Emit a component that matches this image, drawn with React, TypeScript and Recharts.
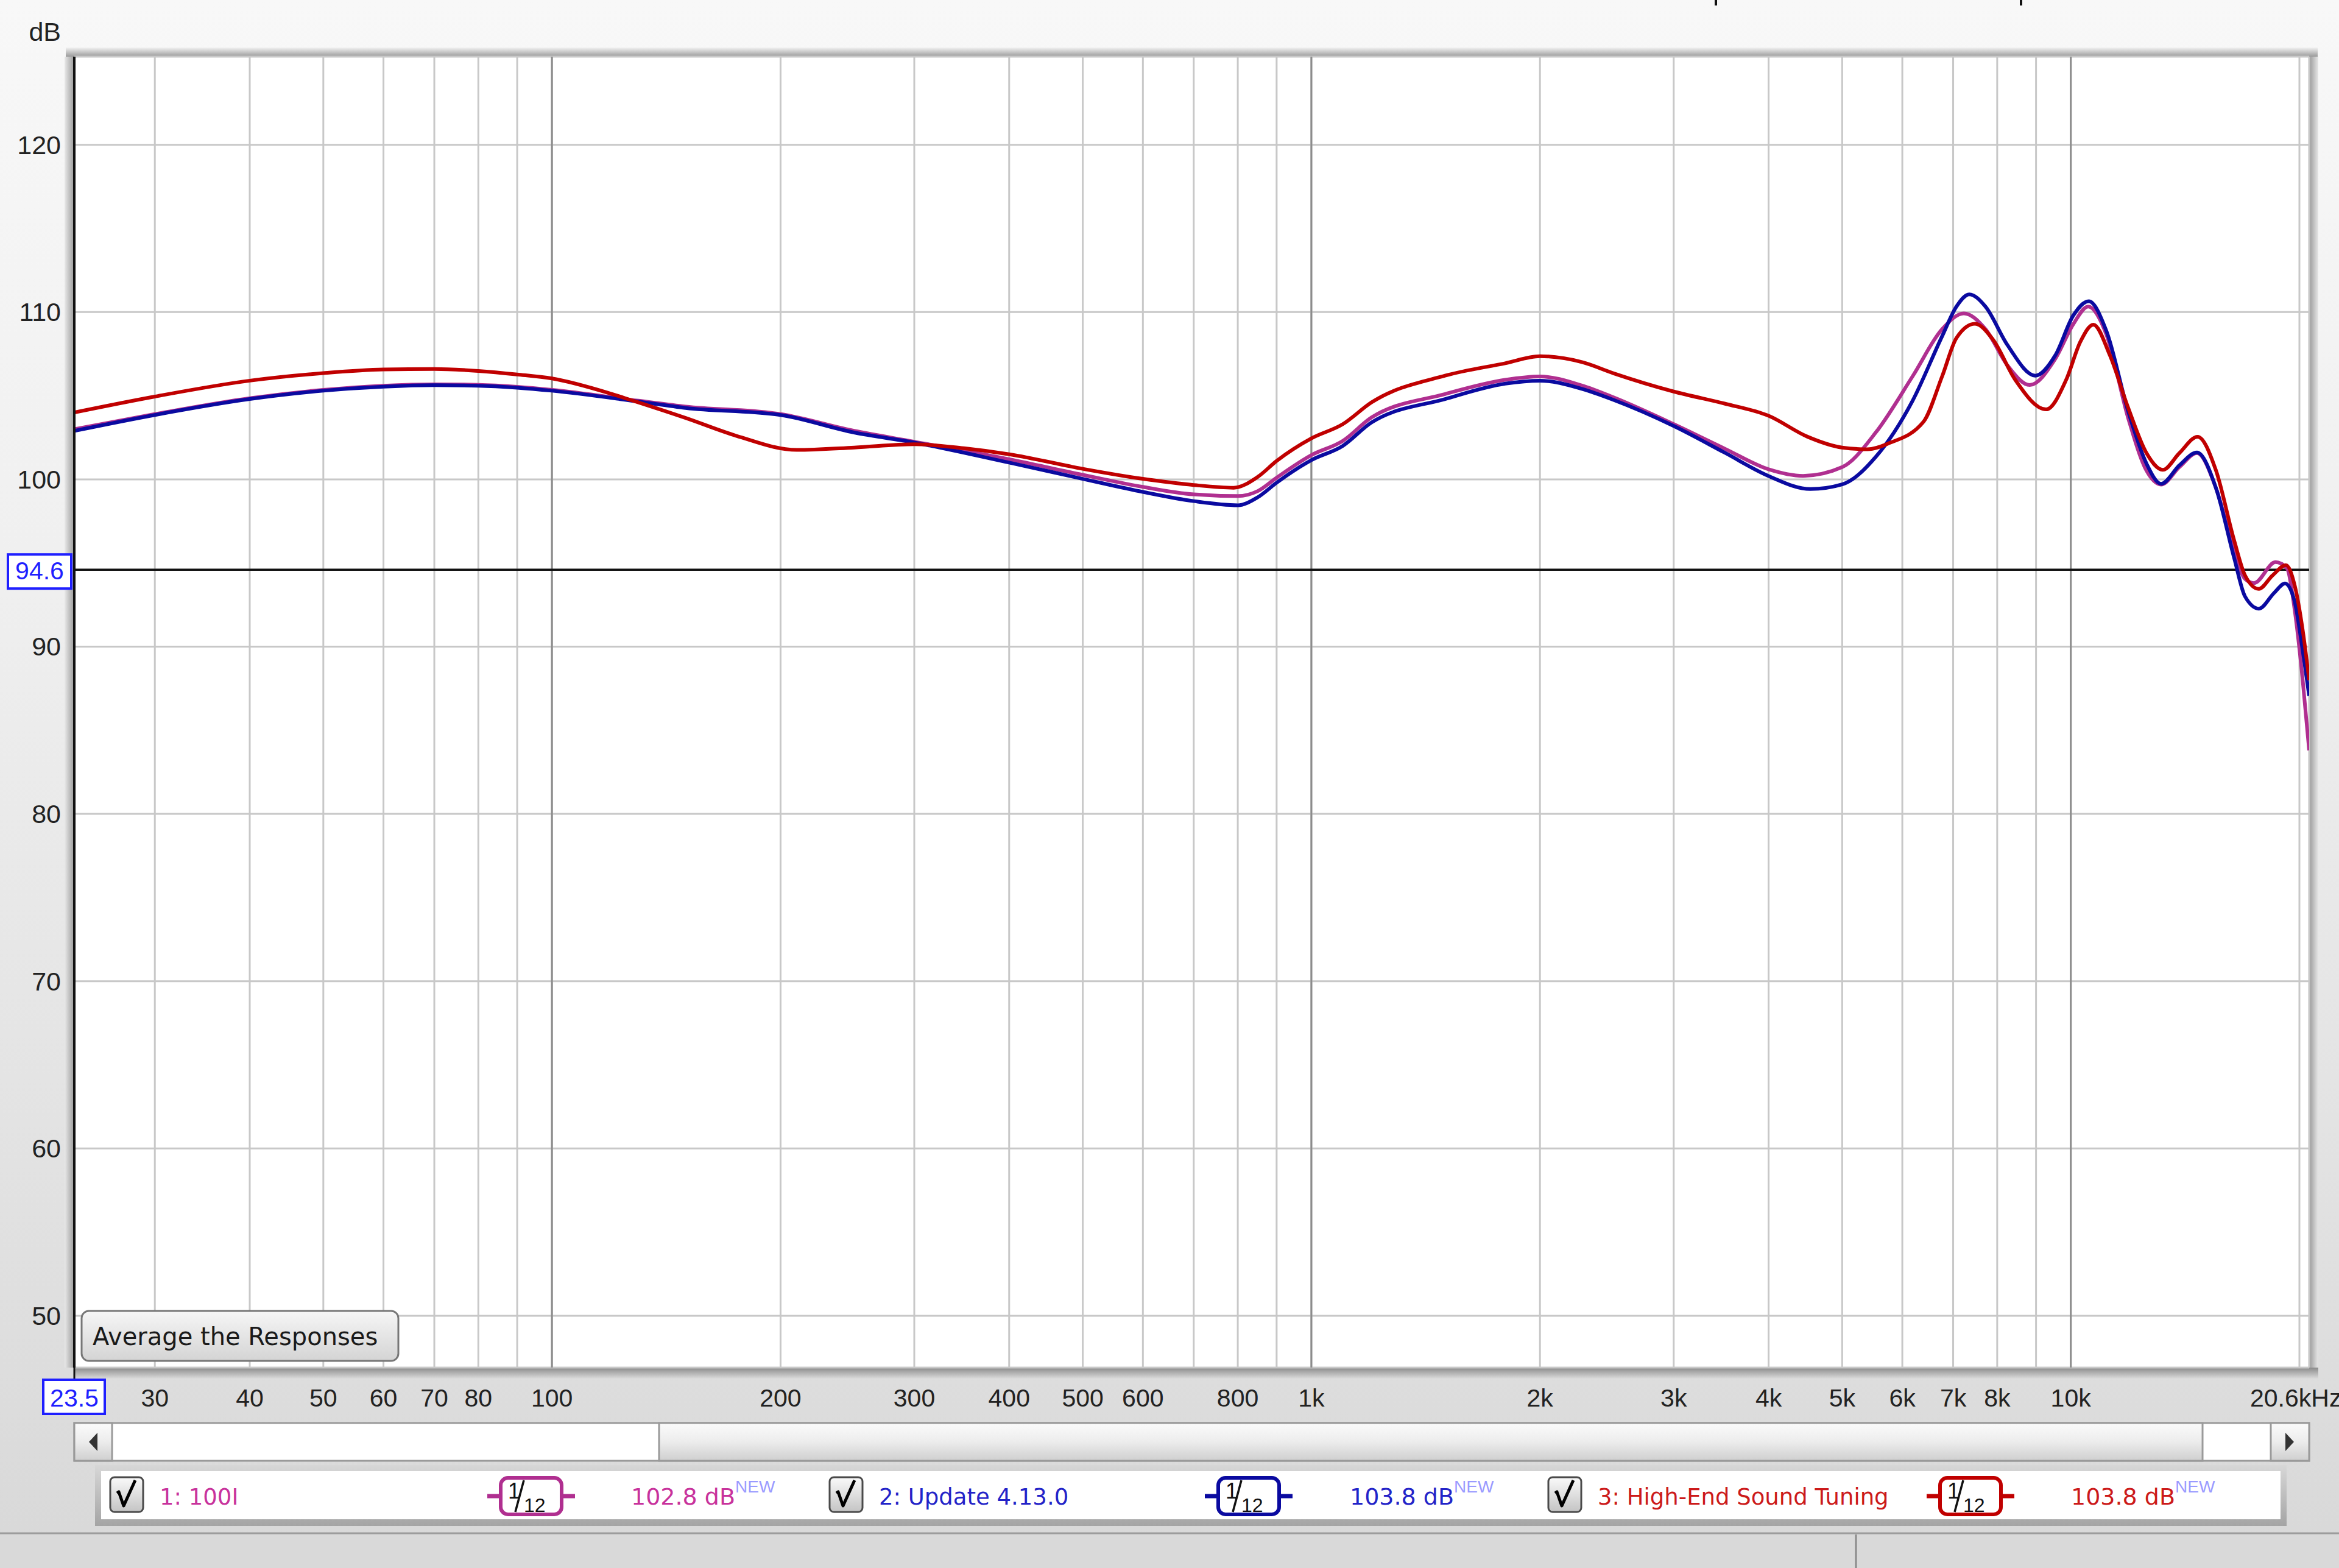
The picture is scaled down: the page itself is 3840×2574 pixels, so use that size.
import React from 'react';
import { LineChart, Line, XAxis, YAxis, CartesianGrid, ReferenceLine } from 'recharts';

// ---- data ----
const magFreq = [23.5, 30, 40, 50, 60, 70, 80, 90, 100, 130, 150, 200, 250, 300, 400, 500, 600, 700, 800, 850, 900, 1000, 1100, 1200, 1500, 1800, 2000, 2275, 2500, 3000, 3500, 4000, 4440, 5000, 5540, 6190, 6770, 7230, 7720, 8260, 8830, 9540, 10080, 10540, 11140, 11900, 12580, 13150, 13900, 14660, 15530, 16410, 16960, 17430, 18600, 19260, 19700, 20200, 20600];
const magDb = [103.0, 103.9, 104.85, 105.35, 105.6, 105.68, 105.65, 105.53, 105.35, 104.7, 104.35, 103.9, 102.9, 102.25, 101.2, 100.27, 99.55, 99.1, 99.0, 99.3, 100.1, 101.45, 102.3, 103.7, 105.1, 105.95, 106.15, 105.6, 104.9, 103.3, 101.84, 100.6, 100.21, 100.73, 102.82, 106.16, 108.98, 109.92, 108.98, 106.79, 105.64, 107.2, 109.29, 110.33, 108.66, 103.66, 100.52, 99.69, 100.73, 101.57, 99.48, 95.72, 94.05, 93.8, 95.05, 94.68, 92.3, 88.0, 83.8];

const blueFreq = [23.5, 30, 40, 50, 60, 70, 80, 90, 100, 130, 150, 200, 250, 300, 400, 500, 600, 700, 800, 850, 900, 1000, 1100, 1200, 1500, 1800, 2000, 2275, 2500, 3000, 3500, 4000, 4540, 5000, 5540, 6190, 6770, 7070, 7350, 7720, 8250, 8980, 9540, 10080, 10560, 11140, 11900, 12580, 13150, 13900, 14660, 15530, 16410, 16960, 17690, 18530, 19150, 19700, 20190, 20600];
const blueDb = [102.9, 103.85, 104.8, 105.3, 105.54, 105.63, 105.6, 105.48, 105.3, 104.65, 104.27, 103.85, 102.8, 102.2, 101.0, 100.03, 99.25, 98.7, 98.45, 98.93, 99.8, 101.15, 102.0, 103.4, 104.8, 105.72, 105.9, 105.4, 104.75, 103.19, 101.6, 100.2, 99.42, 99.7, 101.36, 104.7, 108.56, 110.33, 111.06, 110.33, 108.04, 106.2, 107.41, 109.81, 110.65, 108.87, 104.07, 100.94, 99.73, 100.84, 101.61, 99.48, 95.3, 93.0, 92.27, 93.22, 93.78, 92.75, 89.84, 87.06];

const redFreq = [23.5, 30, 40, 50, 60, 70, 80, 90, 100, 120, 130, 150, 175, 210, 250, 300, 350, 400, 500, 600, 700, 790, 850, 900, 1000, 1100, 1200, 1500, 1800, 2000, 2275, 2500, 3000, 3500, 4000, 4500, 5000, 5400, 5760, 6400, 6770, 7070, 7480, 7900, 8450, 9280, 9860, 10300, 10710, 11260, 11900, 12580, 13220, 13900, 14690, 15530, 16410, 16960, 17680, 18440, 19200, 19700, 20190, 20600];
const redDb = [104.0, 104.95, 105.9, 106.35, 106.57, 106.6, 106.48, 106.27, 106.03, 105.1, 104.6, 103.67, 102.6, 101.76, 101.9, 102.1, 101.85, 101.5, 100.63, 100.03, 99.66, 99.5, 100.15, 101.1, 102.45, 103.3, 104.6, 106.2, 106.94, 107.36, 107.0, 106.34, 105.25, 104.53, 103.8, 102.55, 101.9, 101.8, 102.16, 103.45, 106.16, 108.45, 109.3, 108.35, 105.95, 104.18, 105.95, 108.25, 109.25, 107.41, 104.28, 101.57, 100.57, 101.57, 102.55, 100.53, 96.35, 94.26, 93.45, 94.26, 94.87, 93.72, 91.06, 88.0];

const xTicks = [23.5, 30, 40, 50, 60, 70, 80, 90, 100, 200, 300, 400, 500, 600, 700, 800, 900, 1000, 2000, 3000, 4000, 5000, 6000, 7000, 8000, 9000, 10000, 20000, 20600];
const xLabeled = [30, 40, 50, 60, 70, 80, 100, 200, 300, 400, 500, 600, 800, 1000, 2000, 3000, 4000, 5000, 6000, 7000, 8000, 10000];
const yTicks = [50, 60, 70, 80, 90, 94.6, 100, 110, 120];
const decadeLines = [100, 1000, 10000];
const refLevel = 94.6;
const xMin = 23.5;
const xMax = 20600;

const seriesNames = ['1: 100I', '2: Update 4.13.0', '3: High-End Sound Tuning'];
const seriesLevels = ['102.8 dB', '103.8 dB', '103.8 dB'];
const lineColors = ['#b02f90', '#0a0aa0', '#c00000'];
const textColors = ['#c8329c', '#2323c8', '#cc1a1a'];

const toData = (f: number[], d: number[]) => f.map((v, i) => ({ f: v, db: d[i] }));
const magData = toData(magFreq, magDb);
const blueData = toData(blueFreq, blueDb);
const redData = toData(redFreq, redDb);

const FONT = '"Liberation Sans", Arial, sans-serif';
const UIFONT = '"DejaVu Sans", Verdana, sans-serif';
const W = 3840;
const H = 2574;
const PL = 122, PR = 3791, PT = 93, PB = 2245;

const fmtX = (v: number) => (v >= 1000 ? `${v / 1000}k` : `${v}`);

const XTick = (props: any) => {
  const { x, y, payload } = props;
  const v = payload.value;
  if (v === xMin) {
    return (
      <g>
        <line x1={x} y1={y} x2={x} y2={y + 20} stroke="#111" strokeWidth={3} />
        <rect x={x - 51} y={y + 20} width={101} height={56} fill="#fff" stroke="#1f1fff" strokeWidth={4} />
        <text x={x} y={y + 64} textAnchor="middle" fontFamily={FONT} fontSize={41} fill="#1f1fff">23.5</text>
      </g>
    );
  }
  if (v === xMax) {
    return (
      <text x={x - 97} y={y + 64} textAnchor="start" fontFamily={FONT} fontSize={41} fill="#222">20.6kHz</text>
    );
  }
  if (!xLabeled.includes(v)) return null;
  return (
    <text x={x} y={y + 64} textAnchor="middle" fontFamily={FONT} fontSize={41} fill="#222">{fmtX(v)}</text>
  );
};

const YTick = (props: any) => {
  const { x, y, payload } = props;
  const v = payload.value;
  if (v === refLevel) {
    return (
      <g>
        <rect x={x - 87} y={y - 25} width={104} height={56} fill="#fff" stroke="#1f1fff" strokeWidth={4} />
        <text x={x - 35} y={y + 16} textAnchor="middle" fontFamily={FONT} fontSize={41} fill="#1f1fff">94.6</text>
      </g>
    );
  }
  return (
    <text x={x} y={y + 15} textAnchor="end" fontFamily={FONT} fontSize={43} fill="#222">{v}</text>
  );
};

const Checkbox = ({ x }: { x: number }) => (
  <g>
    <rect x={x} y={2425} width={54} height={57} rx={7} fill="url(#cbGrad)" stroke="#4a4a4a" strokeWidth={3} />
    <path d={`M ${x + 11} ${2451} L ${x + 14} ${2449} L ${x + 22} ${2472} L ${x + 41} ${2430}`} fill="none" stroke="#000" strokeWidth={5} strokeLinejoin="round" />
  </g>
);

const FilterIcon = ({ x, color }: { x: number; color: string }) => (
  <g>
    <line x1={x} y1={2456} x2={x + 22} y2={2456} stroke={color} strokeWidth={7} />
    <line x1={x + 122} y1={2456} x2={x + 144} y2={2456} stroke={color} strokeWidth={7} />
    <rect x={x + 22} y={2426} width={100} height={60} rx={12} fill="#fff" stroke={color} strokeWidth={6} />
    <text x={x + 34} y={2460} fontFamily={FONT} fontSize={36} fill="#111">1</text>
    <line x1={x + 46} y1={2482} x2={x + 60} y2={2430} stroke="#111" strokeWidth={3.5} />
    <text x={x + 60} y={2482} fontFamily={FONT} fontSize={32} fill="#111">12</text>
  </g>
);

const legendX = [181, 1362, 2542];
const iconX = [800, 1978, 3163];
const levelX = [1036, 2216, 3400];

export default function App() {
  return (
    <div style={{ position: 'fixed', left: 0, top: 0, width: W, height: H, overflow: 'hidden' }}>
      {/* underlay */}
      <svg width={W} height={H} style={{ position: 'absolute', left: 0, top: 0 }}>
        <defs>
          <linearGradient id="bgGrad" x1="0" y1="0" x2="0" y2="1">
            <stop offset="0" stopColor="#f8f8f8" />
            <stop offset="0.35" stopColor="#f0f0f0" />
            <stop offset="0.8" stopColor="#e0e0e0" />
            <stop offset="1" stopColor="#d8d8d8" />
          </linearGradient>
          <linearGradient id="topSh" x1="0" y1="0" x2="0" y2="1">
            <stop offset="0" stopColor="#f2f2f2" />
            <stop offset="1" stopColor="#9a9a9a" />
          </linearGradient>
          <linearGradient id="leftSh" x1="0" y1="0" x2="1" y2="0">
            <stop offset="0" stopColor="#e8e8e8" />
            <stop offset="1" stopColor="#9a9a9a" />
          </linearGradient>
          <linearGradient id="rightSh" x1="0" y1="0" x2="1" y2="0">
            <stop offset="0" stopColor="#999" />
            <stop offset="1" stopColor="#e6e6e6" />
          </linearGradient>
          <linearGradient id="botSh" x1="0" y1="0" x2="0" y2="1">
            <stop offset="0" stopColor="#8a8a8a" />
            <stop offset="1" stopColor="#dadada" />
          </linearGradient>
        </defs>
        <rect x={0} y={0} width={W} height={H} fill="url(#bgGrad)" />
        <rect x={PL - 14} y={PT - 15} width={PR - PL + 28} height={15} fill="url(#topSh)" />
        <rect x={PL - 16} y={PT} width={16} height={PB - PT} fill="url(#leftSh)" />
        <rect x={PR} y={PT} width={15} height={PB - PT} fill="url(#rightSh)" />
        <rect x={PL} y={PB} width={PR - PL + 15} height={18} fill="url(#botSh)" />
        <rect x={PL} y={PT} width={PR - PL} height={PB - PT} fill="#fff" />
      </svg>

      {/* chart */}
      <div style={{ position: 'absolute', left: 0, top: 0 }}>
        <LineChart width={W} height={H} margin={{ top: PT, right: W - PR, bottom: H - PB - 80, left: PL - 100 }}>
          <CartesianGrid stroke="#c8c8c8" strokeWidth={3} />
          <XAxis
            dataKey="f"
            type="number"
            scale="log"
            domain={[xMin, xMax]}
            allowDataOverflow
            ticks={xTicks}
            interval={0}
            height={80}
            axisLine={false}
            tickLine={false}
            tickSize={0}
            tickMargin={0}
            tick={<XTick />}
          />
          <YAxis
            type="number"
            domain={[46.9, 125.27]}
            allowDataOverflow
            ticks={yTicks}
            interval={0}
            width={100}
            axisLine={{ stroke: '#111', strokeWidth: 4 }}
            tickLine={false}
            tickSize={0}
            tickMargin={22}
            tick={<YTick />}
          />
          {decadeLines.map((d) => (
            <ReferenceLine key={d} x={d} stroke="#8c8c8c" strokeWidth={3} />
          ))}
          <ReferenceLine y={refLevel} stroke="#111" strokeWidth={3.5} />
          <Line data={magData} dataKey="db" type="monotone" stroke={lineColors[0]} strokeWidth={6} dot={false} activeDot={false} isAnimationActive={false} />
          <Line data={blueData} dataKey="db" type="monotone" stroke={lineColors[1]} strokeWidth={6} dot={false} activeDot={false} isAnimationActive={false} />
          <Line data={redData} dataKey="db" type="monotone" stroke={lineColors[2]} strokeWidth={6} dot={false} activeDot={false} isAnimationActive={false} />
        </LineChart>
      </div>

      {/* overlay */}
      <svg width={W} height={H} style={{ position: 'absolute', left: 0, top: 0, pointerEvents: 'none' }}>
        <defs>
          <linearGradient id="btnGrad" x1="0" y1="0" x2="0" y2="1">
            <stop offset="0" stopColor="#f6f6f6" />
            <stop offset="1" stopColor="#d4d4d4" />
          </linearGradient>
          <linearGradient id="thumbGrad" x1="0" y1="0" x2="0" y2="1">
            <stop offset="0" stopColor="#fbfbfb" />
            <stop offset="0.5" stopColor="#ececec" />
            <stop offset="1" stopColor="#cfcfcf" />
          </linearGradient>
          <linearGradient id="cbGrad" x1="0" y1="0" x2="0" y2="1">
            <stop offset="0" stopColor="#fafafa" />
            <stop offset="1" stopColor="#c4c4c4" />
          </linearGradient>
          <linearGradient id="legSh" x1="0" y1="0" x2="0" y2="1">
            <stop offset="0" stopColor="#d6d6d6" />
            <stop offset="1" stopColor="#8e8e8e" />
          </linearGradient>
        </defs>
        {/* cut-off marks at top */}
        <rect x={2815} y={0} width={4} height={9} fill="#111" />
        <rect x={3316} y={0} width={4} height={9} fill="#111" />
        {/* dB unit */}
        <text x={100} y={67} textAnchor="end" fontFamily={FONT} fontSize={43} fill="#222">dB</text>

        {/* Average the Responses button */}
        <rect x={134} y={2152} width={520} height={82} rx={12} fill="url(#btnGrad)" stroke="#777" strokeWidth={3} />
        <text x={152} y={2208} fontFamily={UIFONT} fontSize={40} fill="#1a1a1a">Average the Responses</text>

        {/* scrollbar */}
        <rect x={PL} y={2336} width={PR - PL} height={62} fill="#fff" stroke="#9a9a9a" strokeWidth={3} />
        <rect x={PL} y={2336} width={62} height={62} fill="url(#thumbGrad)" stroke="#9a9a9a" strokeWidth={3} />
        <path d="M 160 2352 L 146 2367 L 160 2382 Z" fill="#333" />
        <rect x={1082} y={2336} width={3616 - 1082} height={62} fill="url(#thumbGrad)" stroke="#9a9a9a" strokeWidth={3} />
        <rect x={3728} y={2336} width={PR - 3728} height={62} fill="url(#thumbGrad)" stroke="#9a9a9a" strokeWidth={3} />
        <path d="M 3752 2352 L 3766 2367 L 3752 2382 Z" fill="#333" />

        {/* legend box */}
        <rect x={156} y={2405} width={3598} height={100} fill="url(#legSh)" opacity={0.7} />
        <rect x={166} y={2415} width={3578} height={79} fill="#fff" />
        {seriesNames.map((name, i) => (
          <g key={name}>
            <Checkbox x={legendX[i]} />
            <text x={legendX[i] + 81} y={2470} fontFamily={UIFONT} fontSize={37} fill={textColors[i]}>{name}</text>
            <FilterIcon x={iconX[i]} color={lineColors[i]} />
            <text x={levelX[i]} y={2470} fontFamily={UIFONT} fontSize={38} fill={textColors[i]}>
              {seriesLevels[i]}
              <tspan dy={-20} fontFamily={FONT} fontSize={28} fill="#9a9aff">NEW</tspan>
            </text>
          </g>
        ))}

        {/* status bar */}
        <rect x={0} y={2516} width={W} height={H - 2516} fill="#d9d9d9" />
        <line x1={0} y1={2517} x2={W} y2={2517} stroke="#9c9c9c" strokeWidth={3} />
        <line x1={3047} y1={2519} x2={3047} y2={H} stroke="#8a8a8a" strokeWidth={3} />
      </svg>
    </div>
  );
}
